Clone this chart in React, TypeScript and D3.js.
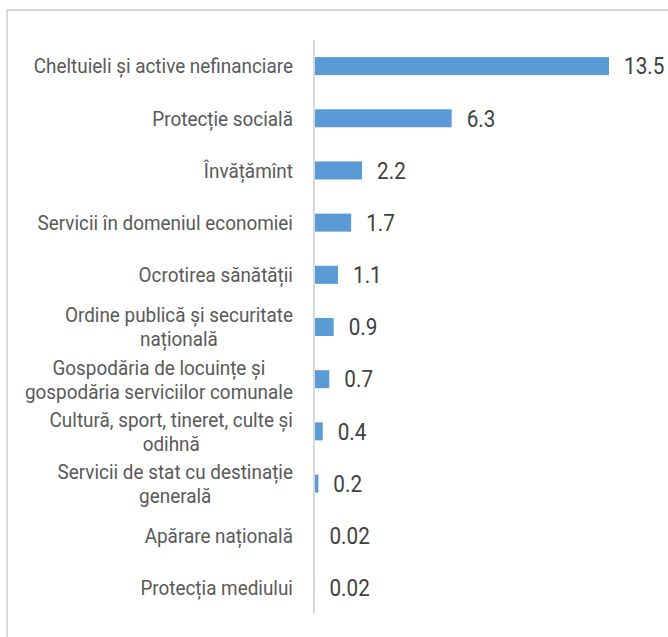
import React, { useEffect, useRef } from 'react';
import * as d3 from 'd3';

const categories = [
  'Cheltuieli și active nefinanciare',
  'Protecție socială',
  'Învățămînt',
  'Servicii în domeniul economiei',
  'Ocrotirea sănătății',
  'Ordine publică și securitate\nnațională',
  'Gospodăria de locuințe și\ngospodăria serviciilor comunale',
  'Cultură, sport, tineret, culte și\nodihnă',
  'Servicii de stat cu destinație\ngenerală',
  'Apărare națională',
  'Protecția mediului',
];

const values = [13.5, 6.3, 2.2, 1.7, 1.1, 0.9, 0.7, 0.4, 0.2, 0.02, 0.02];
const valueLabels = ['13.5', '6.3', '2.2', '1.7', '1.1', '0.9', '0.7', '0.4', '0.2', '0.02', '0.02'];

const FONT = 'Roboto, "Liberation Sans", sans-serif';
// the original uses a narrow face; squeeze Roboto horizontally
const SQUEEZE = 0.9;

const App: React.FC = () => {
  const svgRef = useRef<SVGSVGElement>(null);
  const width = 668;
  const height = 637;

  useEffect(() => {
    const svg = d3.select(svgRef.current);
    svg.selectAll('*').remove();

    const axisX = 314;
    const top = 40;
    const bottom = 614;

    // frame
    svg.append('rect')
      .attr('x', 7)
      .attr('y', 10)
      .attr('width', 700)
      .attr('height', 700)
      .attr('fill', '#fff')
      .attr('stroke', '#d9d9d9')
      .attr('stroke-width', 2);

    const x = d3.scaleLinear()
      .domain([0, 13.5])
      .range([axisX, 609]);

    const y = d3.scaleBand<number>()
      .domain(d3.range(categories.length))
      .range([top, bottom])
      .paddingInner(0.655)
      .paddingOuter(0.655 / 2);

    // bars
    svg.append('g')
      .selectAll('rect')
      .data(values)
      .enter()
      .append('rect')
      .attr('x', x(0))
      .attr('y', (d, i) => y(i) as number)
      .attr('width', d => x(d) - x(0))
      .attr('height', y.bandwidth())
      .attr('fill', '#5b9bd5');

    // axis line
    svg.append('line')
      .attr('x1', axisX)
      .attr('x2', axisX)
      .attr('y1', top)
      .attr('y2', bottom)
      .attr('stroke', '#d9d9d9')
      .attr('stroke-width', 2);

    // category labels (wrapped ones: block right-aligned, lines centred)
    const labelRight = 293;
    const lineH = 24;
    categories.forEach((c, i) => {
      const lines = c.split('\n');
      const cy = (y(i) as number) + y.bandwidth() / 2;
      const g = svg.append('g');
      const texts = lines.map((ln, j) =>
        g.append('text')
          .attr('dy', '0.35em')
          .style('font-family', FONT)
          .style('font-size', '21px')
          .style('fill', '#595959')
          .attr('text-anchor', 'middle')
          .text(ln)
      );
      const widths = texts.map(t => (t.node() as SVGTextElement).getComputedTextLength() * SQUEEZE);
      const maxW = d3.max(widths) || 0;
      texts.forEach((t, j) => {
        const ty = cy + (j - (lines.length - 1) / 2) * lineH;
        t.attr('transform', `translate(${labelRight - maxW / 2},${ty}) scale(${SQUEEZE},1)`);
      });
    });

    // value labels
    svg.append('g')
      .selectAll('text')
      .data(values)
      .enter()
      .append('text')
      .attr('transform', (d, i) =>
        `translate(${x(d) + 15},${(y(i) as number) + y.bandwidth() / 2}) scale(${SQUEEZE},1)`)
      .attr('dy', '0.36em')
      .style('font-family', FONT)
      .style('font-size', '23px')
      .style('fill', '#404040')
      .text((d, i) => valueLabels[i]);
  }, []);

  return (
    <svg
      ref={svgRef}
      width={width}
      height={height}
      style={{ position: 'absolute', left: 0, top: 0, display: 'block' }}
    />
  );
};

export default App;
